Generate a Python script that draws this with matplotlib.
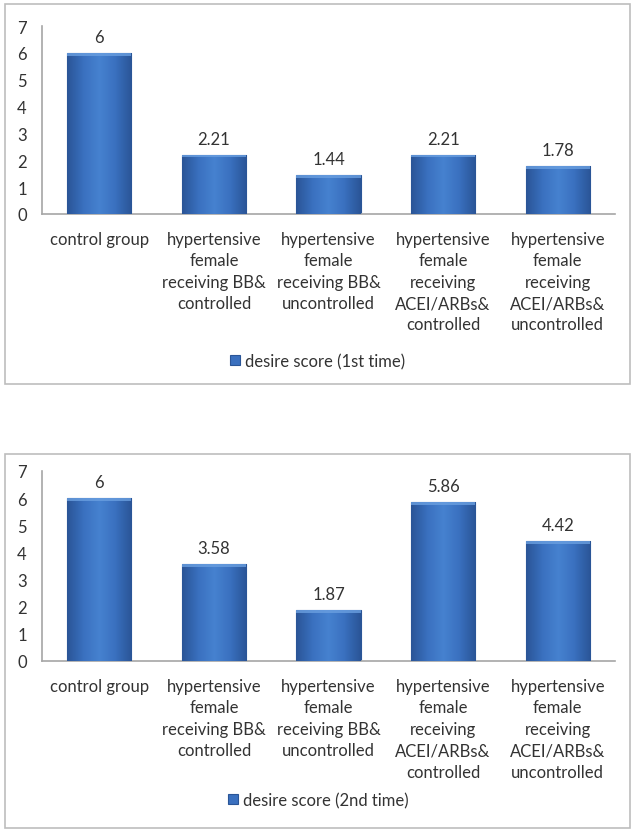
import numpy as np
import matplotlib
matplotlib.use("Agg")
import matplotlib.pyplot as plt
from matplotlib.patches import Rectangle
from matplotlib.colors import LinearSegmentedColormap

plt.rcParams['font.family'] = ['Lato', 'DejaVu Sans']

categories = ["control group",
              "hypertensive\nfemale\nreceiving BB&\ncontrolled",
              "hypertensive\nfemale\nreceiving BB&\nuncontrolled",
              "hypertensive\nfemale\nreceiving\nACEI/ARBs&\ncontrolled",
              "hypertensive\nfemale\nreceiving\nACEI/ARBs&\nuncontrolled"]
score_1st = [6, 2.21, 1.44, 2.21, 1.78]
score_2nd = [6, 3.58, 1.87, 5.86, 4.42]
labels_1st = ["6", "2.21", "1.44", "2.21", "1.78"]
labels_2nd = ["6", "3.58", "1.87", "5.86", "4.42"]
legend_names = ["desire score (1st time)", "desire score (2nd time)"]

W, H = 636, 837
fig = plt.figure(figsize=(W / 100, H / 100), dpi=100)

# horizontal gradient for the bevelled bars
bar_cmap = LinearSegmentedColormap.from_list(
    "bev", ["#2a5597", "#3a70bf", "#4682d0", "#3a70bf", "#2a5597"])
grad = np.linspace(0, 1, 64).reshape(1, -1)


def draw_chart(ax_rect, box_rect, values, labels, legend_name):
    # outer frame
    fig.patches.append(Rectangle((box_rect[0] / W, 1 - box_rect[3] / H),
                                 (box_rect[2] - box_rect[0]) / W,
                                 (box_rect[3] - box_rect[1]) / H,
                                 transform=fig.transFigure, fill=False,
                                 edgecolor="#bdbdbd", linewidth=1.2))
    ax = fig.add_axes(ax_rect)
    x = np.arange(len(values))
    bars = ax.bar(x, values, width=0.56, color="#3a70bf", edgecolor="#2a5597",
                  linewidth=0.8, label=legend_name, zorder=2)
    for b in bars:
        bx, bw, bh = b.get_x(), b.get_width(), b.get_height()
        im = ax.imshow(grad, cmap=bar_cmap, aspect="auto",
                       extent=[bx, bx + bw, 0, bh], zorder=3)
        im.set_clip_path(b)
        # lighter top rim
        ax.add_patch(Rectangle((bx, bh - 0.1), bw, 0.1, color="#6a9fe0",
                               alpha=0.8, zorder=4, linewidth=0))
    for xi, v, lab in zip(x, values, labels):
        ax.text(xi, v + 0.3, lab, ha="center", va="bottom", fontsize=12,
                color="#333333")
    ax.set_xlim(-0.5, len(values) - 0.5)
    ax.set_ylim(0, 7)
    ax.set_yticks(range(0, 8))
    ax.set_xticks([])
    ax.tick_params(axis="y", length=0, pad=11, labelsize=12, labelcolor="#333333")
    for s in ["top", "right"]:
        ax.spines[s].set_visible(False)
    for s in ["left", "bottom"]:
        ax.spines[s].set_color("#a6a6a6")
        ax.spines[s].set_linewidth(1.2)
    for xi, c in zip(x, categories):
        ax.text(xi, -0.62, c, ha="center", va="top", fontsize=12,
                color="#333333", linespacing=1.42,
                transform=ax.transData)
    ax.legend(loc="center", bbox_to_anchor=(0.5, 1 - box_rect[4] / H),
              bbox_transform=fig.transFigure, frameon=False, fontsize=12,
              handlelength=0.6, handleheight=0.6, handletextpad=0.3,
              labelcolor="#333333")
    return ax


draw_chart([42 / W, 1 - 215 / H, 573 / W, 188 / H], (5, 5, 630, 385, 362),
           score_1st, labels_1st, legend_names[0])
draw_chart([42 / W, 1 - 662 / H, 573 / W, 190 / H], (5, 455, 630, 829, 801),
           score_2nd, labels_2nd, legend_names[1])

fig.savefig("out.png", dpi=100, facecolor="white")
